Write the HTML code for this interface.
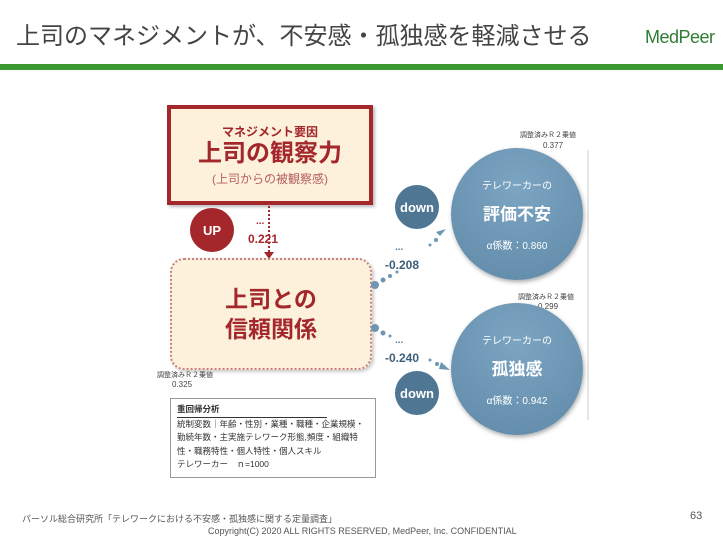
<!DOCTYPE html>
<html><head><meta charset="utf-8"><style>
body{margin:0;width:723px;height:540px;background:#fff;position:relative;overflow:hidden;font-family:"Liberation Sans","Noto Sans CJK JP",sans-serif}
.a{position:absolute}
.c{position:absolute;border-radius:50%;display:flex;align-items:center;justify-content:center;flex-direction:column;color:#fff;font-weight:bold}
</style></head><body>
<div class="a" style="left:16px;top:16px;font-size:24px;color:#444">上司のマネジメントが、不安感・孤独感を軽減させる</div>
<div class="a" style="left:645px;top:27px;font-size:18px;color:#2e7d32;letter-spacing:-0.5px">MedPeer</div>
<div class="a" style="left:0;top:64px;width:723px;height:6px;background:#3a9a2f"></div>

<div class="a" style="left:167px;top:105px;width:198px;height:92px;border:4px solid #a3272b;background:#fdf1dc;text-align:center;box-shadow:2px 2px 3px #bbb">
<div style="font-size:12px;color:#a3272b;font-weight:bold;margin-top:14px">マネジメント要因</div>
<div style="font-size:24px;color:#a3272b;font-weight:bold;line-height:28px">上司の観察力</div>
<div style="font-size:12px;color:#b56060;margin-top:2px">(上司からの被観察感)</div>
</div>
<div class="a" style="left:268px;top:203px;height:52px;border-left:2px dotted #a3272b"></div>
<div class="a" style="left:264px;top:252px;width:0;height:0;border-left:5px solid transparent;border-right:5px solid transparent;border-top:7px solid #a3272b"></div>
<div class="a" style="left:256px;top:216px;font-size:10px;color:#a3272b;font-weight:bold">...</div>
<div class="a" style="left:248px;top:232px;font-size:12px;color:#a3272b;font-weight:bold">0.221</div>
<div class="c" style="left:190px;top:208px;width:44px;height:44px;background:#a3272b;font-size:13px">UP</div>

<div class="a" style="left:170px;top:258px;width:198px;height:108px;border:2px dotted #c98080;border-radius:14px;background:#fdf1dc;text-align:center;box-shadow:2px 2px 3px #ccc">
<div style="font-size:23px;color:#a3272b;font-weight:bold;line-height:30px;margin-top:24px">上司との<br>信頼関係</div>
</div>

<svg class="a" style="left:0;top:0" width="723" height="540">
<g fill="#6d96b3">
<circle cx="375" cy="285" r="4"/><circle cx="383" cy="280" r="2.5"/><circle cx="390" cy="276" r="2"/><circle cx="397" cy="272" r="1.5"/>
<circle cx="430" cy="245" r="1.5"/><circle cx="436" cy="240" r="2"/><polygon points="440,236 446,229 436,232"/>
<circle cx="375" cy="328" r="4"/><circle cx="383" cy="333" r="2.5"/><circle cx="390" cy="336" r="1.5"/>
<circle cx="430" cy="360" r="1.5"/><circle cx="437" cy="364" r="2"/><polygon points="441,362 450,370 439,369"/>
</g>
<line x1="588" y1="150" x2="588" y2="420" stroke="#ccc" stroke-width="1"/>
</svg>
<div class="a" style="left:395px;top:242px;font-size:10px;color:#5b7f99;font-weight:bold">...</div>
<div class="a" style="left:385px;top:258px;font-size:12px;color:#3e5e78;font-weight:bold">-0.208</div>
<div class="a" style="left:395px;top:335px;font-size:10px;color:#5b7f99;font-weight:bold">...</div>
<div class="a" style="left:385px;top:351px;font-size:12px;color:#3e5e78;font-weight:bold">-0.240</div>

<div class="c" style="left:395px;top:185px;width:44px;height:44px;background:#4f7692;font-size:13px">down</div>
<div class="c" style="left:395px;top:371px;width:44px;height:44px;background:#4f7692;font-size:13px">down</div>

<div class="a" style="left:520px;top:130px;font-size:7px;color:#444">調整済みＲ２乗値</div>
<div class="a" style="left:543px;top:141px;font-size:8px;color:#444">0.377</div>
<div class="c" style="left:451px;top:148px;width:132px;height:132px;background:radial-gradient(circle at 50% 30%,#7ca5c2,#5f89a8);box-shadow:1px 2px 4px #aaa">
<div style="font-size:10px;font-weight:normal">テレワーカーの</div>
<div style="font-size:17px;margin:8px 0 12px">評価不安</div>
<div style="font-size:10px;font-weight:normal">α係数：0.860</div></div>

<div class="a" style="left:518px;top:292px;font-size:7px;color:#444">調整済みＲ２乗値</div>
<div class="a" style="left:538px;top:302px;font-size:8px;color:#444">0.299</div>
<div class="c" style="left:451px;top:303px;width:132px;height:132px;background:radial-gradient(circle at 50% 30%,#7ca5c2,#5f89a8);box-shadow:1px 2px 4px #aaa">
<div style="font-size:10px;font-weight:normal">テレワーカーの</div>
<div style="font-size:17px;margin:8px 0 12px">孤独感</div>
<div style="font-size:10px;font-weight:normal">α係数：0.942</div></div>

<div class="a" style="left:157px;top:370px;font-size:7px;color:#444">調整済みＲ２乗値</div>
<div class="a" style="left:172px;top:380px;font-size:8px;color:#444">0.325</div>
<div class="a" style="left:170px;top:398px;border:1px solid #999;padding:4px 6px 0 6px;font-size:8.5px;color:#333;line-height:13.5px;box-sizing:border-box;width:206px;height:80px">
<div style="font-weight:bold;border-bottom:1px solid #333;width:150px">重回帰分析</div>
統制変数｜年齢・性別・業種・職種・企業規模・勤続年数・主実施テレワーク形態,頻度・組織特性・職務特性・個人特性・個人スキル<br>テレワーカー　ｎ=1000</div>

<div class="a" style="left:22px;top:512px;font-size:9px;color:#555">パーソル総合研究所「テレワークにおける不安感・孤独感に関する定量調査」</div>
<div class="a" style="left:208px;top:526px;font-size:9px;color:#555">Copyright(C) 2020 ALL RIGHTS RESERVED, MedPeer, Inc. CONFIDENTIAL</div>
<div class="a" style="left:690px;top:510px;font-size:11px;color:#555">63</div>
</body></html>
